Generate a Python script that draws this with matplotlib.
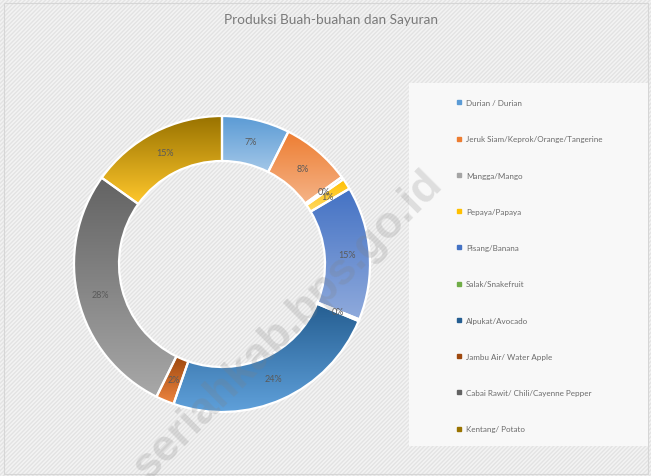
"""Donut chart: Produksi Buah-buahan dan Sayuran."""

import matplotlib

matplotlib.use("Agg")
import matplotlib.pyplot as plt
import numpy as np
from matplotlib.colors import LinearSegmentedColormap
from matplotlib.lines import Line2D
from matplotlib.patches import Rectangle

plt.rcParams["font.family"] = ["Lato", "DejaVu Sans"]

TITLE = "Produksi Buah-buahan dan Sayuran"
LABELS = [
    "Durian / Durian",
    "Jeruk Siam/Keprok/Orange/Tangerine",
    "Mangga/Mango",
    "Pepaya/Papaya",
    "Pisang/Banana",
    "Salak/Snakefruit",
    "Alpukat/Avocado",
    "Jambu Air/ Water Apple",
    "Cabai Rawit/ Chili/Cayenne Pepper",
    "Kentang/ Potato",
]
# share of production (percent)
VALUES = [7.4, 7.6, 0.3, 1.2, 14.6, 0.2, 24.0, 2.0, 27.6, 15.1]
COLORS = ["#5B9BD5", "#ED7D31", "#A5A5A5", "#FFC000", "#4472C4",
          "#70AD47", "#255E91", "#9E480E", "#636363", "#997300"]
LIGHT = ["#A3C7E8", "#F5B387", "#CFCFCF", "#FFD966", "#8FAADC",
         "#A9D18E", "#5FA0DA", "#EE8540", "#A8A8A8", "#FFC72C"]
WATERMARK = "seriahkab.bps.go.id"

W, H = 651, 477
TEXT = "#6B6B6B"

fig = plt.figure(figsize=(W / 100, H / 100), dpi=100)
fig.patch.set_facecolor("#F0F0F0")
ax = fig.add_axes([0, 0, 1, 1])

# chart area with a light woven texture
ax.add_patch(Rectangle((0, 0), W, H, facecolor="#F3F3F3", edgecolor="#E3E3E3",
                       hatch="////////", linewidth=0, zorder=0))
ax.add_patch(Rectangle((4, 2), W - 7, H - 6, facecolor="none", edgecolor="#D6D6D6",
                       linewidth=0.8, zorder=0.5))
# legend panel
ax.add_patch(Rectangle((409, H - 447), 239, 363, facecolor="#F8F8F8",
                       edgecolor="none", zorder=0.6))

R, RING = 148, 45
wedges, _, pcts = ax.pie(
    VALUES,
    colors=COLORS,
    startangle=90,
    counterclock=False,
    radius=R,
    center=(222, H - 265),
    autopct="%1.0f%%",
    pctdistance=(R - RING / 2) / R,
    wedgeprops=dict(width=RING, edgecolor="white", linewidth=1.6),
    textprops=dict(fontsize=6.5, color="#5A5A5A"),
)

grad = np.linspace(0, 1, 200)[:, None]
for w, c0, c1 in zip(wedges, COLORS, LIGHT):
    bb = w.get_path().get_extents()
    cmap = LinearSegmentedColormap.from_list("g", [c0, c1])
    im = ax.imshow(grad, cmap=cmap, extent=(bb.x0, bb.x1, bb.y0, bb.y1),
                   origin="upper", aspect="auto", zorder=1)
    im.set_clip_path(w)
    w.set_facecolor("none")
    w.set_zorder(2)
for t in pcts:
    t.set_zorder(3)

ax.set_xlim(0, W)
ax.set_ylim(0, H)
ax.set_aspect("auto")
ax.axis("off")

ax.text(331, H - 20, TITLE, ha="center", va="center", fontsize=9.8, color="#7A7A7A")

handles = [Line2D([], [], marker="s", linestyle="none", markersize=3.3,
                  markerfacecolor=c, markeredgecolor=c) for c in COLORS]
ax.legend(handles, LABELS, loc="upper left", bbox_to_anchor=(454 / W, 1 - 97 / H),
          frameon=False, fontsize=5.8, labelspacing=3.63, handlelength=0.5,
          handletextpad=0.6, labelcolor=TEXT, borderaxespad=0)

ax.text(288, H - 326, WATERMARK, rotation=45, ha="center", va="center",
        fontsize=32, fontweight="bold", family="Liberation Sans",
        color="#808080", alpha=0.22, zorder=5)

fig.savefig("out.png", dpi=100, facecolor=fig.get_facecolor())
